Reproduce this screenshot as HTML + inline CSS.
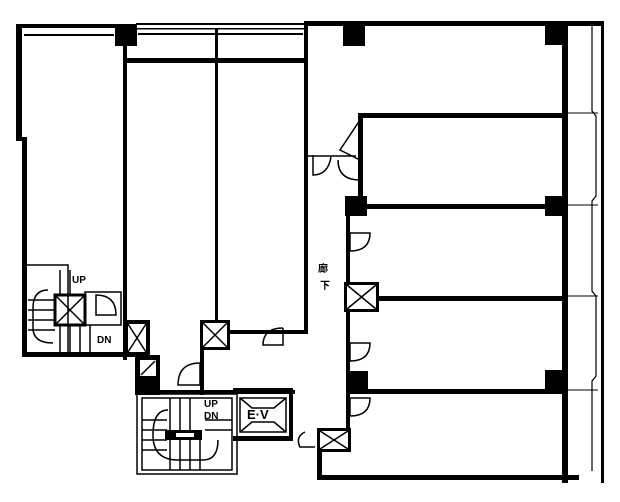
<!DOCTYPE html>
<html><head><meta charset="utf-8"><style>
html,body{margin:0;padding:0;background:#fff;width:620px;height:502px;overflow:hidden}
svg{display:block}
text{font-family:"Liberation Sans",sans-serif;font-weight:bold;fill:#000}
</style></head><body>
<svg width="620" height="502" viewBox="0 0 620 502" xmlns="http://www.w3.org/2000/svg">
<g fill="#000">
<rect x="16" y="24" width="6" height="117"/>
<rect x="16" y="137" width="11" height="4"/>
<rect x="22" y="137" width="5" height="219"/>
<rect x="16" y="24" width="120" height="4"/>
<rect x="22" y="352" width="116" height="5"/>
<rect x="115" y="24" width="22" height="22"/>
<rect x="123" y="45" width="4" height="315"/>
<rect x="136" y="23" width="170" height="2"/>
<rect x="136" y="28" width="170" height="1.5"/>
<rect x="125" y="58" width="182" height="5"/>
<rect x="215" y="29" width="3" height="291"/>
<rect x="304" y="23" width="4" height="310"/>
<rect x="200" y="320" width="30" height="30"/>
<rect x="230" y="330" width="78" height="4"/>
<rect x="304" y="21" width="300" height="5"/>
<rect x="343" y="26" width="22" height="20"/>
<rect x="545" y="23" width="22" height="22"/>
<rect x="562" y="23" width="6" height="460"/>
<rect x="601" y="23" width="3" height="460"/>
<rect x="360" y="113" width="205" height="5"/>
<rect x="358" y="113" width="5" height="88"/>
<rect x="345" y="196" width="22" height="20"/>
<rect x="345" y="204" width="220" height="5"/>
<rect x="545" y="196" width="22" height="20"/>
<rect x="346" y="200" width="4" height="250"/>
<rect x="344" y="282" width="35" height="30"/>
<rect x="378" y="296" width="187" height="5"/>
<rect x="348" y="371" width="20" height="20"/>
<rect x="348" y="389" width="217" height="5"/>
<rect x="545" y="370" width="22" height="20"/>
<rect x="317" y="428" width="34" height="24"/>
<rect x="317" y="428" width="5" height="52"/>
<rect x="317" y="475" width="262" height="5"/>
<rect x="135" y="355" width="25" height="40"/>
<rect x="135" y="390" width="160" height="4"/>
<rect x="200" y="345" width="4" height="50"/>
<rect x="233" y="388" width="60" height="5"/>
<rect x="233" y="436" width="60" height="5"/>
<rect x="289" y="388" width="4" height="53"/>
<rect x="165" y="430" width="37" height="10"/>
<rect x="125" y="320" width="25" height="35"/>
</g>
<g fill="#fff">
<rect x="128" y="324" width="18" height="28"/>
<rect x="203" y="323" width="24" height="24"/>
<rect x="347" y="285" width="29" height="24"/>
<rect x="320" y="431" width="28" height="18"/>
<rect x="140" y="360" width="16" height="16"/>
<rect x="176" y="433" width="18" height="4"/>
</g>
<g fill="none" stroke="#000" stroke-width="1.5">
<path d="M128 324 L146 352 M146 324 L128 352"/>
<path d="M203 323 L227 347 M227 323 L203 347"/>
<path d="M347 285 L376 309 M376 285 L347 309"/>
<path d="M320 431 L348 449 M348 431 L320 449"/>
<path d="M141 375 L155 361"/>
<rect x="26" y="265" width="42" height="90"/>
<rect x="55" y="295" width="30" height="30" stroke-width="3"/>
<path d="M55 295 L85 325 M85 295 L55 325"/>
<rect x="85" y="292" width="36" height="33"/>
<path d="M28 300h27 M28 310h27 M28 320h27 M28 330h27 M60 325v28 M70 325v28 M80 325v28 M90 325v28 M60 270v25 M70 270v25"/>
<path d="M48 290 q-15 0 -15 18 v20 q0 15 20 15"/>
<path d="M96 295 q20 0 20 20 h-20 z"/>
<rect x="137" y="394" width="100" height="80"/>
<rect x="142" y="398" width="90" height="72"/>
<path d="M142 420h25 M142 430h25 M142 440h25 M142 450h25 M170 398v32 M180 398v32 M190 398v32 M170 440v30 M180 440v30 M190 440v30 M200 440v30 M205 420h27 M205 430h27"/>
<path d="M168 410 q-15 0 -15 25 q0 25 25 25 h25 q15 0 15 -20"/>
<rect x="240" y="398" width="46" height="34"/>
<path d="M240 398 l12 10 h22 l12 -10 M240 432 l12 -10 h22 l12 10"/>
<path d="M200 363 v22 h-22 q0 -22 22 -22"/>
<path d="M283 328 v17 h-20 q0 -17 20 -17"/>
<path d="M313 155 v20 q15 0 18 -18"/>
<path d="M338 160 q0 20 22 20"/>
<path d="M350 233 h20 q0 18 -20 18 z"/>
<path d="M350 343 h20 q0 18 -20 18 z"/>
<path d="M350 398 h20 q0 18 -20 18 z"/>
<path d="M305 432 q-10 5 -5 15 h15"/>
<path d="M340 150 l20 -30 v40 z"/>
<path d="M592 26 v85 l4 5 v80 l-4 5 v90 l4 5 v80 l-4 5 v90" stroke-width="1.2"/>
<path d="M568 113 h30 M568 205 h30 M568 296 h30 M568 390 h30" stroke-width="1"/>
<path d="M24 35 h90 M138 34 h165" stroke-width="2"/>
<path d="M306 156 h50" stroke-width="1.5"/>
</g>
<text x="72" y="283" font-size="10">UP</text>
<text x="97" y="343" font-size="10">DN</text>
<text x="204" y="407" font-size="10">UP</text>
<text x="204" y="419" font-size="10">DN</text>
<text x="247" y="419" font-size="13" font-weight="normal">E·V</text>
<text x="318" y="272" font-size="10" style="font-family:'Liberation Sans','Noto Sans CJK JP',sans-serif">廊</text>
<text x="320" y="289" font-size="10" style="font-family:'Liberation Sans','Noto Sans CJK JP',sans-serif">下</text>
</svg>
</body></html>
